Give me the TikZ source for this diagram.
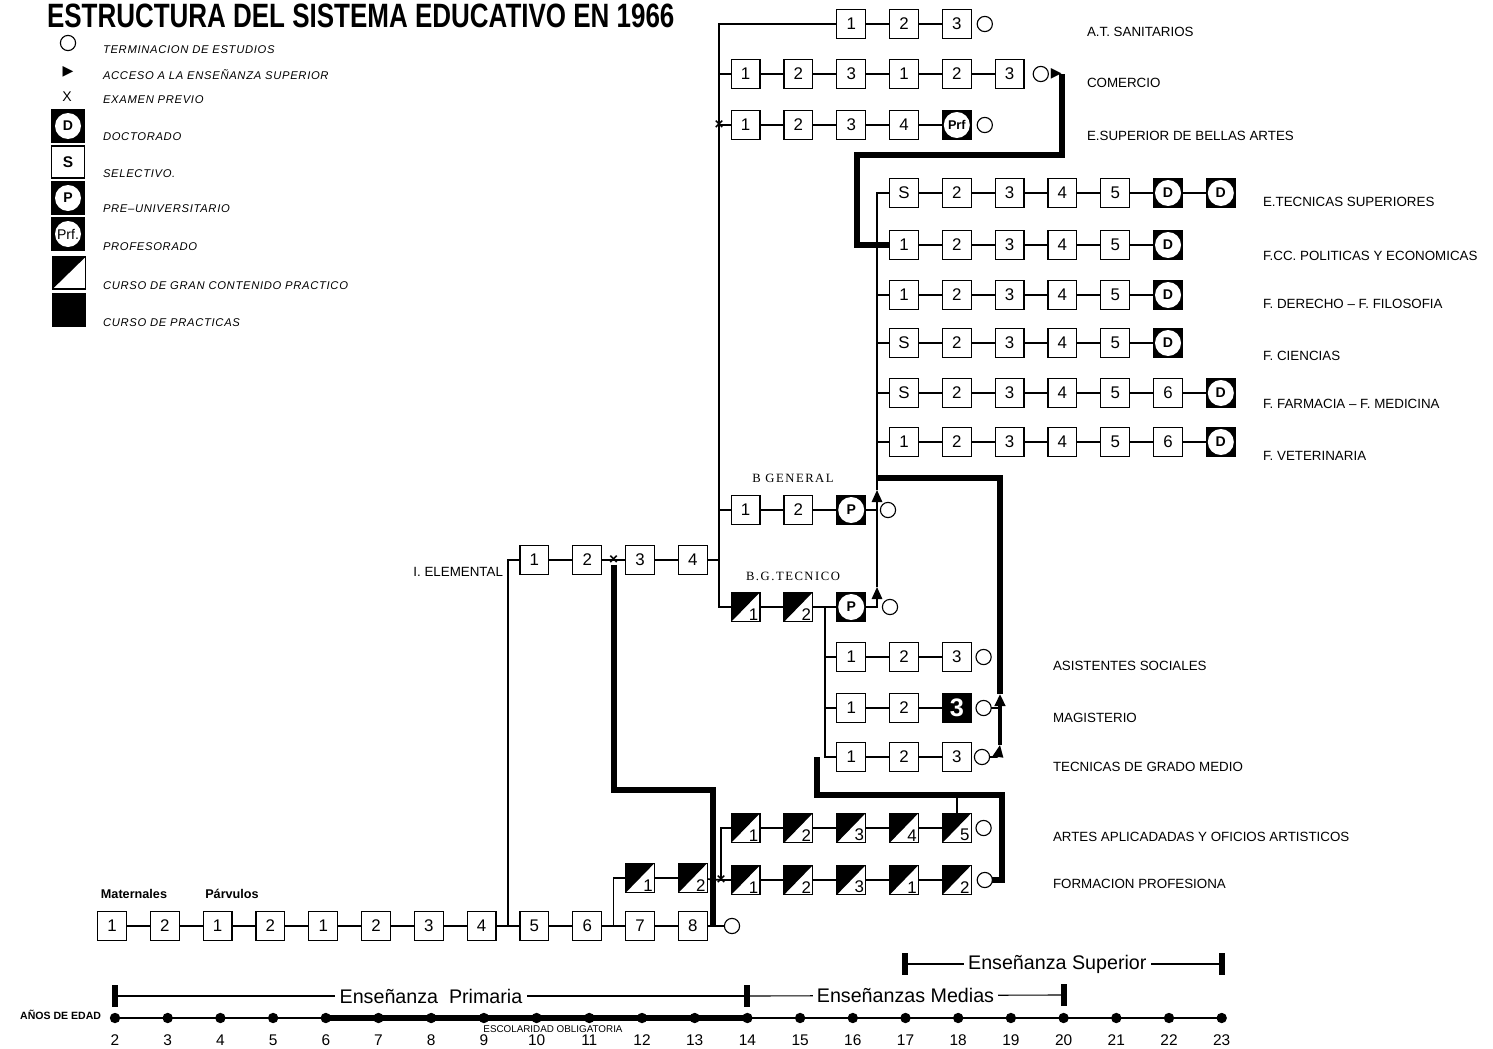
\documentclass[tikz,border=0pt]{standalone}
\usepackage{fontspec}
\setmainfont{Liberation Sans}
\newfontfamily\titlefont{Liberation Sans}
\newfontfamily\lgfont[LetterSpace=6]{Liberation Sans}
\newfontfamily\bgfont[LetterSpace=12]{Liberation Serif}
\newfontfamily\symfont{DejaVu Sans}
\usetikzlibrary{arrows.meta, positioning, calc}

\begin{document}
\begin{tikzpicture}[
  x=0.25mm, y=-0.25mm,
  node distance=6mm,
  every node/.style={inner sep=0pt, outer sep=0pt},
  box/.style={draw, line width=0.8pt, fill=white, minimum width=7.2mm,
    minimum height=7.4mm, font=\fontsize{12}{12}\selectfont},
  dbox/.style={box, fill=black, font=\bfseries\fontsize{10}{10}\selectfont,
    path picture={\fill[white] (path picture bounding box.center) circle (3.25mm);}},
  hbox/.style={box,
    path picture={\fill[black] (path picture bounding box.south west)
      -- (path picture bounding box.north west)
      -- (path picture bounding box.north east) -- cycle;},
    label={[anchor=south east, inner sep=1.2pt,
      font=\fontsize{12}{12}\selectfont]south east:#1}},
  pbox/.style={box, fill=black, text=white, font=\bfseries\fontsize{18}{18}\selectfont},
  endc/.style={circle, draw, line width=0.8pt, fill=white, minimum size=3.8mm},
  acc/.style={font=\symfont\fontsize{10}{10}\selectfont},
  xm/.style={font=\bfseries\fontsize{11}{11}\selectfont},
  ln/.style={line width=1.2pt},
  arr/.style={ln, -{Triangle[width=2.6mm,length=3mm]}},
  thk/.style={line width=1.5mm},
  lb/.style={anchor=west, font=\fontsize{9.5}{11}\selectfont},
  lg/.style={anchor=west, font=\lgfont\itshape\fontsize{8}{9}\selectfont},
  lgbox/.style={minimum width=8.2mm, minimum height=8mm},
  bgl/.style={font=\bgfont\fontsize{9}{10}\selectfont},
  dot/.style={circle, fill=black, minimum size=2.6mm},
  bar/.style={fill=black, minimum width=1.6mm, minimum height=5.5mm},
  per/.style={fill=white, inner xsep=3pt, font=\fontsize{14}{14}\selectfont},
  num/.style={font=\fontsize{11}{11}\selectfont}
]
\useasboundingbox (0,0) rectangle (1493,1049);

\node[anchor=base west] (title) at (47,28)
  {\titlefont\bfseries\fontsize{24}{24}\selectfont
   \scalebox{0.77}[1]{ESTRUCTURA DEL SISTEMA EDUCATIVO EN 1966}};

% legend
\node[endc] (lgO) at (68,43) {};
\node[acc] (lgA) at (68,72) {▶};
\node[font=\fontsize{10}{10}\selectfont] (lgX) at (67,97) {X};
\node[dbox,lgbox] (lgD) at (68,126) {D};
\node[box,lgbox,font=\bfseries\fontsize{11}{11}\selectfont] (lgS) at (68,162) {S};
\node[dbox,lgbox] (lgP) at (68,198) {P};
\node[dbox,lgbox,font=\fontsize{10}{10}\selectfont] (lgPrf) at (68,234) {Prf.};
\node[hbox,lgbox] (lgH) at (69,273) {};
\node[box,lgbox,fill=black] (lgK) at (69,310) {};
\node[lg] (lgOt) at (103,50) {TERMINACION DE ESTUDIOS};
\node[lg] (lgAt) at (103,75) {ACCESO A LA ENSEÑANZA SUPERIOR};
\node[lg] (lgXt) at (103,100) {EXAMEN PREVIO};
\node[lg] (lgDt) at (103,137) {DOCTORADO};
\node[lg] (lgSt) at (103,174) {SELECTIVO.};
\node[lg] (lgPt) at (103,209) {PRE–UNIVERSITARIO};
\node[lg] (lgPrft) at (103,247) {PROFESORADO};
\node[lg] (lgHt) at (103,286) {CURSO DE GRAN CONTENIDO PRACTICO};
\node[lg] (lgKt) at (103,323) {CURSO DE PRACTICAS};

% ensenanza primaria
\node[box] (pr1) at (112,926) {1};
\node[box, right=of pr1] (pr2) {2};
\node[box, right=of pr2] (pr3) {1};
\node[box, right=of pr3] (pr4) {2};
\node[box, right=of pr4] (pr5) {1};
\node[box, right=of pr5] (pr6) {2};
\node[box, right=of pr6] (pr7) {3};
\node[box, right=of pr7] (pr8) {4};
\node[box, right=of pr8] (pr9) {5};
\node[box, right=of pr9] (pr10) {6};
\node[box, right=of pr10] (pr11) {7};
\node[box, right=of pr11] (pr12) {8};
\node[endc, right=4.3mm of pr12] (prO) {};
\node[font=\bfseries\fontsize{9}{10}\selectfont] (mat) at (134,894) {Maternales};
\node[font=\bfseries\fontsize{9}{10}\selectfont] (par) at (232,894) {Párvulos};

\node[hbox=1] (pt1) at (640,878) {};
\node[hbox=2, right=of pt1] (pt2) {};

% iniciacion elemental
\node[box] (ie1) at (534.4,560) {1};
\node[box, right=of ie1] (ie2) {2};
\node[box, right=of ie2] (ie3) {3};
\node[box, right=of ie3] (ie4) {4};
\node[xm] (ieX) at ($(ie2.east)!.5!(ie3.west)$) {×};
\node[lb, anchor=east] (ieL) at (503,572) {I. ELEMENTAL};

% upper left branch
\node[box] (at1) at (851.2,24) {1};
\node[box, right=of at1] (at2) {2};
\node[box, right=of at2] (at3) {3};
\node[endc, right=1.5mm of at3] (atO) {};

\node[box] (com1) at (745.6,74) {1};
\node[box, right=of com1] (com2) {2};
\node[box, right=of com2] (com3) {3};
\node[box, right=of com3] (com4) {1};
\node[box, right=of com4] (com5) {2};
\node[box, right=of com5] (com6) {3};
\node[endc, right=2.3mm of com6] (comO) {};
\node[acc, right=0.6mm of comO] (comT) {▶};

\node[box] (bel1) at (745.6,125) {1};
\node[box, right=of bel1] (bel2) {2};
\node[box, right=of bel2] (bel3) {3};
\node[box, right=of bel3] (bel4) {4};
\node[dbox, right=of bel4, font=\bfseries\fontsize{9}{9}\selectfont] (bel5) {Prf};
\node[endc, right=1.5mm of bel5] (belO) {};
\node[xm] (belX) at ($(bel1.west)+(-12,0)$) {×};

% facultades y escuelas superiores
\node[box] (ets1) at (904,193) {S};
\node[box, right=of ets1] (ets2) {2};
\node[box, right=of ets2] (ets3) {3};
\node[box, right=of ets3] (ets4) {4};
\node[box, right=of ets4] (ets5) {5};
\node[dbox, right=of ets5] (ets6) {D};
\node[dbox, right=of ets6] (ets7) {D};

\node[box] (fcc1) at (904,245) {1};
\node[box, right=of fcc1] (fcc2) {2};
\node[box, right=of fcc2] (fcc3) {3};
\node[box, right=of fcc3] (fcc4) {4};
\node[box, right=of fcc4] (fcc5) {5};
\node[dbox, right=of fcc5] (fcc6) {D};

\node[box] (der1) at (904,295) {1};
\node[box, right=of der1] (der2) {2};
\node[box, right=of der2] (der3) {3};
\node[box, right=of der3] (der4) {4};
\node[box, right=of der4] (der5) {5};
\node[dbox, right=of der5] (der6) {D};

\node[box] (cie1) at (904,343) {S};
\node[box, right=of cie1] (cie2) {2};
\node[box, right=of cie2] (cie3) {3};
\node[box, right=of cie3] (cie4) {4};
\node[box, right=of cie4] (cie5) {5};
\node[dbox, right=of cie5] (cie6) {D};

\node[box] (far1) at (904,393) {S};
\node[box, right=of far1] (far2) {2};
\node[box, right=of far2] (far3) {3};
\node[box, right=of far3] (far4) {4};
\node[box, right=of far4] (far5) {5};
\node[box, right=of far5] (far6) {6};
\node[dbox, right=of far6] (far7) {D};

\node[box] (vet1) at (904,442) {1};
\node[box, right=of vet1] (vet2) {2};
\node[box, right=of vet2] (vet3) {3};
\node[box, right=of vet3] (vet4) {4};
\node[box, right=of vet4] (vet5) {5};
\node[box, right=of vet5] (vet6) {6};
\node[dbox, right=of vet6] (vet7) {D};

% bachillerato
\node[box] (bg1) at (745.6,510) {1};
\node[box, right=of bg1] (bg2) {2};
\node[dbox, right=of bg2] (bg3) {P};
\node[endc, right=3.7mm of bg3] (bgO) {};
\node[bgl] (bgL) at (793,478) {B GENERAL};

\node[hbox=1] (bgt1) at (745.6,607) {};
\node[hbox=2, right=of bgt1] (bgt2) {};
\node[dbox, right=of bgt2] (bgt3) {P};
\node[endc, right=4.2mm of bgt3] (bgtO) {};
\node[bgl] (bgtL) at (793,576) {B.G.TECNICO};

% grado medio
\node[box] (as1) at (851.2,657) {1};
\node[box, right=of as1] (as2) {2};
\node[box, right=of as2] (as3) {3};
\node[endc, right=1.2mm of as3] (asO) {};

\node[box] (mag1) at (851.2,708) {1};
\node[box, right=of mag1] (mag2) {2};
\node[pbox, right=of mag2] (mag3) {3};
\node[endc, right=1.2mm of mag3] (magO) {};

\node[box] (tgm1) at (851.2,757) {1};
\node[box, right=of tgm1] (tgm2) {2};
\node[box, right=of tgm2] (tgm3) {3};
\node[endc, right=0.8mm of tgm3] (tgmO) {};

\node[hbox=1] (art1) at (745.6,828) {};
\node[hbox=2, right=of art1] (art2) {};
\node[hbox=3, right=of art2] (art3) {};
\node[hbox=4, right=of art3] (art4) {};
\node[hbox=5, right=of art4] (art5) {};
\node[endc, right=1.2mm of art5] (artO) {};

\node[hbox=1] (fp1) at (745.6,880) {};
\node[hbox=2, right=of fp1] (fp2) {};
\node[hbox=3, right=of fp2] (fp3) {};
\node[hbox=1, right=of fp3] (fp4) {};
\node[hbox=2, right=of fp4] (fp5) {};
\node[endc, right=1.5mm of fp5] (fpO) {};

% row labels
\node[lb] (atL) at (1087,32) {A.T. SANITARIOS};
\node[lb] (comL) at (1087,83) {COMERCIO};
\node[lb] (belL) at (1087,136) {E.SUPERIOR DE BELLAS ARTES};
\node[lb] (etsL) at (1263,202) {E.TECNICAS SUPERIORES};
\node[lb] (fccL) at (1263,256) {F.CC. POLITICAS Y ECONOMICAS};
\node[lb] (derL) at (1263,304) {F. DERECHO – F. FILOSOFIA};
\node[lb] (cieL) at (1263,356) {F. CIENCIAS};
\node[lb] (farL) at (1263,404) {F. FARMACIA – F. MEDICINA};
\node[lb] (vetL) at (1263,456) {F. VETERINARIA};
\node[lb] (asL) at (1053,666) {ASISTENTES SOCIALES};
\node[lb] (magL) at (1053,718) {MAGISTERIO};
\node[lb] (tgmL) at (1053,767) {TECNICAS DE GRADO MEDIO};
\node[lb] (artL) at (1053,837) {ARTES APLICADADAS Y OFICIOS ARTISTICOS};
\node[lb] (fpL) at (1053,884) {FORMACION PROFESIONA};

% row chains
\draw[ln] (pr1) -- (pr2) -- (pr3) -- (pr4) -- (pr5) -- (pr6) -- (pr7)
  -- (pr8) -- (pr9) -- (pr10) -- (pr11) -- (pr12) -- (prO);
\draw[ln] (ie1) -- (ie2) -- (ie3) -- (ie4);
\draw[ln] (at1) -- (at2) -- (at3);
\draw[ln] (com1) -- (com2) -- (com3) -- (com4) -- (com5) -- (com6);
\draw[ln] (bel1) -- (bel2) -- (bel3) -- (bel4) -- (bel5);
\draw[ln] (ets1) -- (ets2) -- (ets3) -- (ets4) -- (ets5) -- (ets6) -- (ets7);
\draw[ln] (fcc1) -- (fcc2) -- (fcc3) -- (fcc4) -- (fcc5) -- (fcc6);
\draw[ln] (der1) -- (der2) -- (der3) -- (der4) -- (der5) -- (der6);
\draw[ln] (cie1) -- (cie2) -- (cie3) -- (cie4) -- (cie5) -- (cie6);
\draw[ln] (far1) -- (far2) -- (far3) -- (far4) -- (far5) -- (far6) -- (far7);
\draw[ln] (vet1) -- (vet2) -- (vet3) -- (vet4) -- (vet5) -- (vet6) -- (vet7);
\draw[ln] (bg1) -- (bg2) -- (bg3);
\draw[ln] (bgt1) -- (bgt2) -- (bgt3);
\draw[ln] (as1) -- (as2) -- (as3);
\draw[ln] (mag1) -- (mag2) -- (mag3);
\draw[ln] (tgm1) -- (tgm2) -- (tgm3);
\draw[ln] (art1) -- (art2) -- (art3) -- (art4) -- (art5);
\draw[ln] (fp1) -- (fp2) -- (fp3) -- (fp4) -- (fp5);

% primaria -> elemental, practicas
\coordinate (pv) at ($(pr8.east)!.5!(pr9.west)$);
\draw[ln] (pv) |- (ie1);
\coordinate (qv) at ($(pr10.east)!.5!(pr11.west)$);
\draw[ln] (qv) |- (pt1);
\coordinate (fpv) at ($(fp1.west)+(-10,0)$);
\draw[ln] (pt1) -- (pt2) -- (fpv) -- (fp1);
\draw[ln] (fpv) |- (art1);
\node[xm] (fpX) at (fpv) {×};

% left spine
\coordinate (sA) at (719,24);
\coordinate (sB) at (719,607);
\draw[ln] (at1) -- (sA) -- (sB) -- (bgt1);
\draw[ln] (com1 -| sA) -- (com1);
\draw[ln] (bel1 -| sA) -- (bel1);
\draw[ln] (bg1 -| sA) -- (bg1);
\draw[ln] (ie4) -- (ie4 -| sA);

% right spine (acceso a la ensenanza superior)
\coordinate (fA) at (877,193);
\coordinate (fT1) at (877,490);
\coordinate (fT2) at (877,587);
\draw[arr] (bg3) -| (fT1);
\draw[arr] (bgt3) -| (fT2);
\draw[ln] (fT2) -- (fT2 |- bg3);
\draw[ln] (fT1) -- (fA) -- (ets1);
\foreach \r in {fcc,der,cie,far,vet}
  \draw[ln] (\r1 -| fA) -- (\r1);

% bachillerato tecnico -> grado medio
\coordinate (bv) at ($(bgt2.east)!.5!(bgt3.west)$);
\draw[ln] (bv) |- (tgm1);
\draw[ln] (as1 -| bv) -- (as1);
\draw[ln] (mag1 -| bv) -- (mag1);

% thick access paths
\coordinate (kA) at (713,790);
\draw[thk] (ieX.south) -- (ieX.south |- kA) -- (kA) -- (kA |- prO);

\coordinate (kB) at (857,155);
\coordinate (kC) at (857,245);
\draw[thk] (comT.east) |- (kB) -- (kC) -- (fcc1);

\coordinate (uA) at (1000,745);
\coordinate (uB) at (1000,694);
\coordinate (uC) at (1000,478);
\draw[arr] (tgmO) .. controls (998,757) .. (uA);
\draw[arr, line width=2.4pt] (uA) -- (uB);
\draw[ln] (magO) -- (magO -| uA);
\draw[thk] (uB) -- (uC) -- (uC -| fA);

\coordinate (kD) at (1002,795);
\coordinate (kE) at ($(tgm1.west)+(-20,0)$);
\draw[thk] (fpO) -| (kD) -| (kE);
\draw[ln] (art5.north) -- ++(0,-18);

% edades
\foreach \a in {2,...,23}
  \node[dot] (ax\a) at ({115+52.7*(\a-2)},1018) {};
\draw[line width=0.8pt] (ax2) -- (ax23);
\draw[line width=1.3mm] (ax6.center) -- (ax14.center);
\foreach \a in {2,...,23}
  \node[num, below=2.8mm of ax\a] (n\a) {\a};
\node[anchor=east, font=\bfseries\fontsize{7.5}{8}\selectfont] (edad) at (101,1015) {AÑOS DE EDAD};
\node[font=\fontsize{7}{8}\selectfont] (oblig) at (553,1029) {ESCOLARIDAD OBLIGATORIA};

% niveles
\node[bar] (bP1) at (115,996) {};
\node[bar] (bP2) at (747,996) {};
\node[bar] (bM2) at (1064,995) {};
\node[bar] (bS1) at (905,964) {};
\node[bar] (bS2) at (1222,964) {};
\draw[line width=0.8pt] (bP1) -- node[per] (tP) {Enseñanza\ \ Primaria} (bP2);
\draw[line width=0.8pt] (bP2) -- node[per] (tM) {Enseñanzas Medias} (bM2);
\draw[line width=0.8pt] (bS1) -- node[per, pos=0.48] (tS) {Enseñanza Superior} (bS2);

\end{tikzpicture}
\end{document}
